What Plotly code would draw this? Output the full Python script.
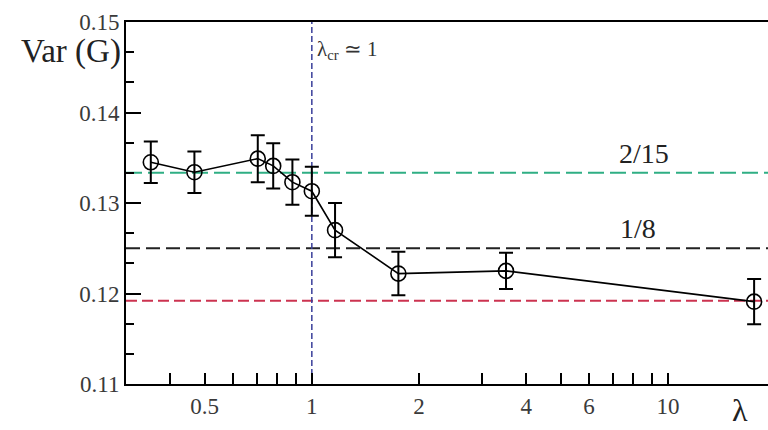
import numpy as np
import plotly.graph_objects as go

# Data
lam = [0.353, 0.468, 0.705, 0.779, 0.882, 1.0, 1.162, 1.75, 3.51, 17.46]
var_g = [0.1345, 0.1334, 0.1349, 0.1341, 0.1323, 0.1313, 0.1270, 0.1222, 0.1225, 0.1191]
err = [0.0023, 0.0023, 0.0026, 0.0025, 0.0025, 0.0027, 0.0030, 0.0024, 0.0020, 0.0025]

ref_2_15 = 2 / 15
ref_1_8 = 1 / 8
ref_red = 0.1192
lam_cr = 1.0

x_range = [0.3007, 19.1]
y_range = [0.11, 0.15]

x_tickvals = [0.5, 1, 2, 4, 6, 10]
x_ticktext = ["0.5", "1", "2", "4", "6", "10"]
x_minor = [0.4, 0.6, 0.7, 0.8, 0.9, 3, 5, 7, 8, 9]
y_tickvals = [0.11, 0.12, 0.13, 0.14, 0.15]
y_ticktext = ["0.11", "0.12", "0.13", "0.14", "0.15"]
y_minor = [0.11 + k * 0.01 / 3 for k in range(13) if k % 3 != 0]

FONT = "Liberation Serif, Times New Roman, serif"

fig = go.Figure()

# reference lines
fig.add_trace(go.Scatter(x=x_range, y=[ref_2_15] * 2, mode="lines",
                         line=dict(color="#2fae84", width=2, dash="16px,6px"),
                         hoverinfo="skip", showlegend=False))
fig.add_trace(go.Scatter(x=x_range, y=[ref_1_8] * 2, mode="lines",
                         line=dict(color="#222222", width=2, dash="14px,6px"),
                         hoverinfo="skip", showlegend=False))
fig.add_trace(go.Scatter(x=x_range, y=[ref_red] * 2, mode="lines",
                         line=dict(color="#cc3350", width=2, dash="11px,5px"),
                         hoverinfo="skip", showlegend=False))
fig.add_trace(go.Scatter(x=[lam_cr, lam_cr], y=y_range, mode="lines",
                         line=dict(color="#3a3f9a", width=1.5, dash="6px,3px"),
                         hoverinfo="skip", showlegend=False))

# data
fig.add_trace(go.Scatter(
    x=lam, y=var_g, mode="lines+markers",
    line=dict(color="black", width=1.6),
    marker=dict(symbol="circle-open", size=15, color="black", line=dict(width=1.6)),
    error_y=dict(type="data", array=err, visible=True, color="black", thickness=2, width=7),
    showlegend=False))

fig.update_layout(
    width=768, height=430,
    margin=dict(l=126, r=0, t=22, b=46),
    paper_bgcolor="white", plot_bgcolor="white",
    font=dict(family=FONT, color="#333333"),
    xaxis=dict(type="log", range=[np.log10(x_range[0]), np.log10(x_range[1])],
               tickvals=x_tickvals, ticktext=x_ticktext,
               ticks="inside", ticklen=11, tickwidth=1.5, tickcolor="black",
               minor=dict(tickvals=x_minor, ticks="inside", ticklen=11, tickwidth=1.5,
                          tickcolor="black", showgrid=False),
               showline=True, linecolor="black", linewidth=2, mirror=True,
               showgrid=False, zeroline=False,
               tickfont=dict(family=FONT, size=23, color="#3a3a3a")),
    yaxis=dict(range=y_range, tickvals=y_tickvals, ticktext=y_ticktext,
               ticks="inside", ticklen=15, tickwidth=2, tickcolor="black",
               minor=dict(tickvals=y_minor, ticks="inside", ticklen=8, tickwidth=2,
                          tickcolor="black", showgrid=False),
               showline=True, linecolor="black", linewidth=2, mirror=False,
               showgrid=False, zeroline=False,
               tickfont=dict(family=FONT, size=23, color="#3a3a3a")),
)

fig.add_annotation(text="Var (G)", xref="paper", yref="y", x=0, y=0.1467,
                   xanchor="right", yanchor="middle", xshift=-3, showarrow=False,
                   font=dict(family=FONT, size=33, color="#222222"))
fig.add_annotation(text="λ", xref="paper", yref="paper", x=(740 - 126) / 642, y=0,
                   xanchor="center", yanchor="top", yshift=-6, showarrow=False,
                   font=dict(family=FONT, size=32, color="#222222"))
fig.add_annotation(text="λ<sub>cr</sub> ≃ 1", xref="x", yref="y", x=np.log10(lam_cr), y=0.1469,
                   xanchor="left", yanchor="middle", xshift=3, showarrow=False,
                   font=dict(family=FONT, size=21, color="#333333"))
fig.add_annotation(text="2/15", xref="paper", yref="y", x=(644 - 126) / 642, y=ref_2_15,
                   xanchor="center", yanchor="bottom", yshift=2, showarrow=False,
                   font=dict(family=FONT, size=28, color="#222222"))
fig.add_annotation(text="1/8", xref="paper", yref="y", x=(638 - 126) / 642, y=ref_1_8,
                   xanchor="center", yanchor="bottom", yshift=2, showarrow=False,
                   font=dict(family=FONT, size=28, color="#222222"))

fig.write_html("out.html")
